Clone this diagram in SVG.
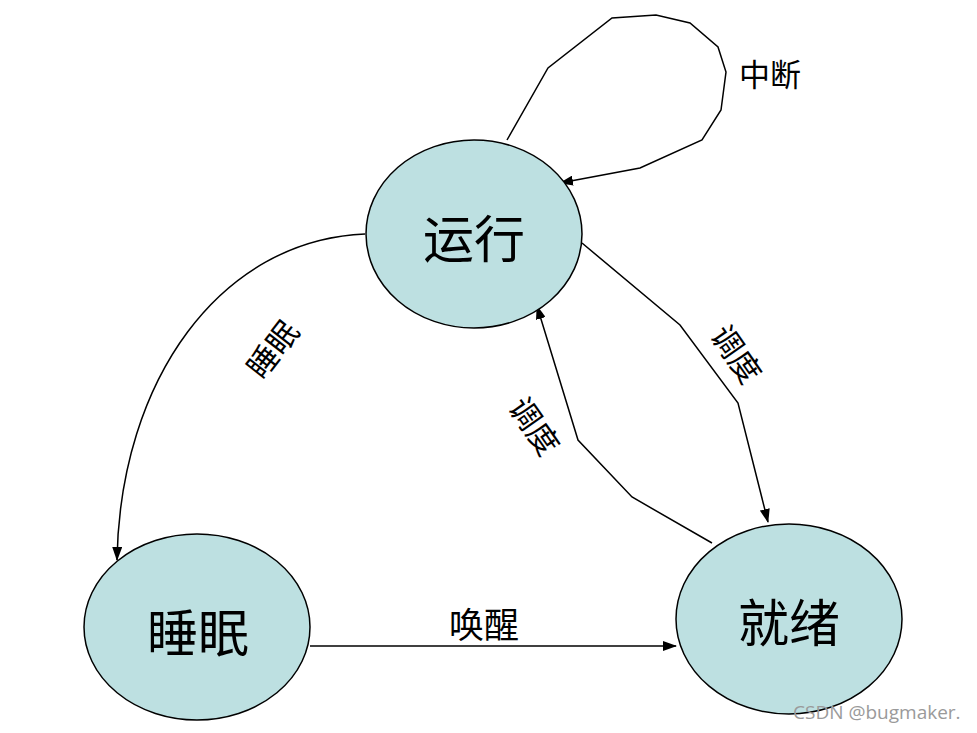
<svg xmlns="http://www.w3.org/2000/svg" width="977" height="733" viewBox="0 0 977 733">
<style>
.node ellipse{fill:#bde0e1;stroke:#000;stroke-width:1.5}
.nt{font-family:"Noto Sans CJK SC","Noto Sans CJK JP",sans-serif;font-size:51px;text-anchor:middle;dominant-baseline:central;fill:#000}
.edge{fill:none;stroke:#000;stroke-width:1.5;marker-end:url(#ah)}
.el{font-family:"Noto Sans CJK SC","Noto Sans CJK JP",sans-serif;font-size:31px;text-anchor:middle;dominant-baseline:central;fill:#000}
.wm{font-family:"Open Sans","Noto Sans",sans-serif;font-size:19px;fill:#9a9a9a}
</style>
<defs>
<marker id="ah" markerWidth="14" markerHeight="10" refX="13" refY="5" orient="auto" markerUnits="userSpaceOnUse">
<path d="M0,0 L14,5 L0,10 Z" fill="#000"/>
</marker>
</defs>
<rect width="977" height="733" fill="#fff"/>
<g id="connectors">
<polyline class="edge" points="507,140 548,68 612,18 656,15 690,23 718,47 726,72 721,110 702,140 640,168 560,183"/>
<path class="edge" d="M365,234 C220,240 120,380 117,560"/>
<polyline class="edge" points="582,243 680,325 738,403 768,522"/>
<polyline class="edge" points="712,543 632,497 578,440 537,306"/>
<line class="edge" x1="310" y1="646" x2="676" y2="646"/>
<text class="el" x="770" y="72">中断</text>
<text class="el" transform="translate(271,348) rotate(-52)" x="0" y="0">睡眠</text>
<text class="el" transform="translate(738,353) rotate(55)" x="0" y="0">调度</text>
<text class="el" transform="translate(536,425) rotate(55)" x="0" y="0">调度</text>
<text class="el" x="484" y="622" style="font-size:35px">唤醒</text>
</g>
<g id="running" class="node">
<ellipse cx="474" cy="234" rx="108" ry="94"/>
<text class="nt" x="474" y="236">运行</text>
</g>
<g id="sleeping" class="node">
<ellipse cx="197" cy="627" rx="113" ry="93"/>
<text class="nt" x="198" y="630">睡眠</text>
</g>
<g id="ready" class="node">
<ellipse cx="789" cy="619" rx="113" ry="95"/>
<text class="nt" x="789" y="620">就绪</text>
</g>
<text class="wm" x="793" y="719">CSDN @bugmaker.</text>
</svg>
